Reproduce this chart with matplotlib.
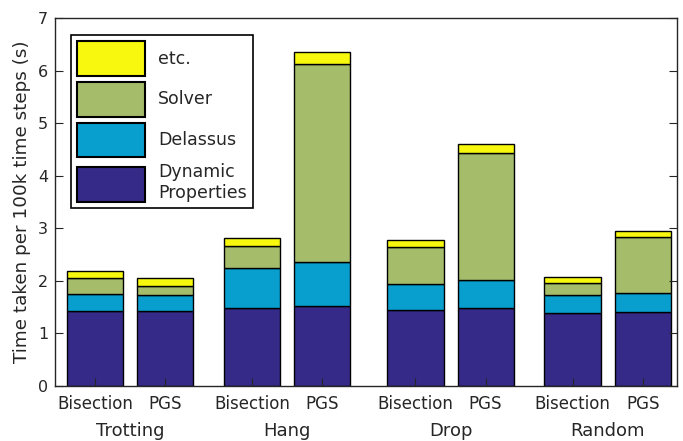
import matplotlib
matplotlib.use("Agg")
import matplotlib.pyplot as plt
import matplotlib.transforms as mtransforms
from matplotlib.patches import Patch
import numpy as np

groups = ["Trotting", "Hang", "Drop", "Random"]
methods = ["Bisection", "PGS"]
# order: Trot-B, Trot-P, Hang-B, Hang-P, Drop-B, Drop-P, Rand-B, Rand-P
dynamic = [1.42, 1.42, 1.47, 1.52, 1.44, 1.47, 1.38, 1.40]
delassus = [0.32, 0.30, 0.77, 0.83, 0.49, 0.54, 0.34, 0.36]
solver = [0.31, 0.18, 0.42, 3.78, 0.71, 2.42, 0.23, 1.07]
etc = [0.13, 0.15, 0.16, 0.23, 0.14, 0.17, 0.12, 0.12]
series_names = ["Dynamic\nProperties", "Delassus", "Solver", "etc."]
colors = ["#352A87", "#089FCF", "#A5BD6A", "#F8F80E"]

dark = "#262626"
plt.rcParams['font.family'] = ['DejaVu Sans']
plt.rcParams['text.color'] = dark
fig = plt.figure(figsize=(6.83, 4.41), dpi=100)
ax = fig.add_axes([55 / 683, 55.3 / 441, 622 / 683, 367.7 / 441])

# bar positions (layout)
pos = np.array([0, 1, 2.24, 3.24, 4.57, 5.57, 6.81, 7.81])
width = 0.8
bottom = np.zeros(len(pos))
for vals, c in zip([dynamic, delassus, solver, etc], colors):
    ax.bar(pos, vals, width, bottom=bottom, color=c, edgecolor="black", linewidth=1.0)
    bottom = bottom + np.array(vals)

ax.set_xlim(-0.571, 8.3)
ax.set_ylim(0, 7)
ax.set_yticks(range(0, 8))
ax.tick_params(axis='y', direction='in', right=True, labelsize=11.5, length=6, pad=5,
               colors=dark)
ax.tick_params(axis='x', direction='in', length=6, labelsize=12, pad=7, colors=dark)
ax.set_xticks(pos)
ax.set_xticklabels(methods * len(groups))
ax.set_ylabel("Time taken per 100k time steps (s)", fontsize=13.2, labelpad=5, color=dark)
for sp in ax.spines.values():
    sp.set_linewidth(1.0)
    sp.set_color(dark)

trans = mtransforms.blended_transform_factory(ax.transData, ax.transAxes)
for gi, g in enumerate(groups):
    xc = (pos[2 * gi] + pos[2 * gi + 1]) / 2
    ax.text(xc, -0.122, g, transform=trans, ha='center', va='center', fontsize=13)

handles = [Patch(facecolor=c, edgecolor='black', linewidth=1.5) for c in colors]
leg = ax.legend(handles[::-1], series_names[::-1], loc='upper left',
                bbox_to_anchor=(0.0257, 0.954), fontsize=12.5, handlelength=3.9,
                handleheight=2.7, labelspacing=0.35, handletextpad=0.75,
                borderpad=0.35, borderaxespad=0, fancybox=False,
                edgecolor='black', framealpha=1)
leg.get_frame().set_linewidth(1.2)

fig.savefig("out.png", dpi=100)
